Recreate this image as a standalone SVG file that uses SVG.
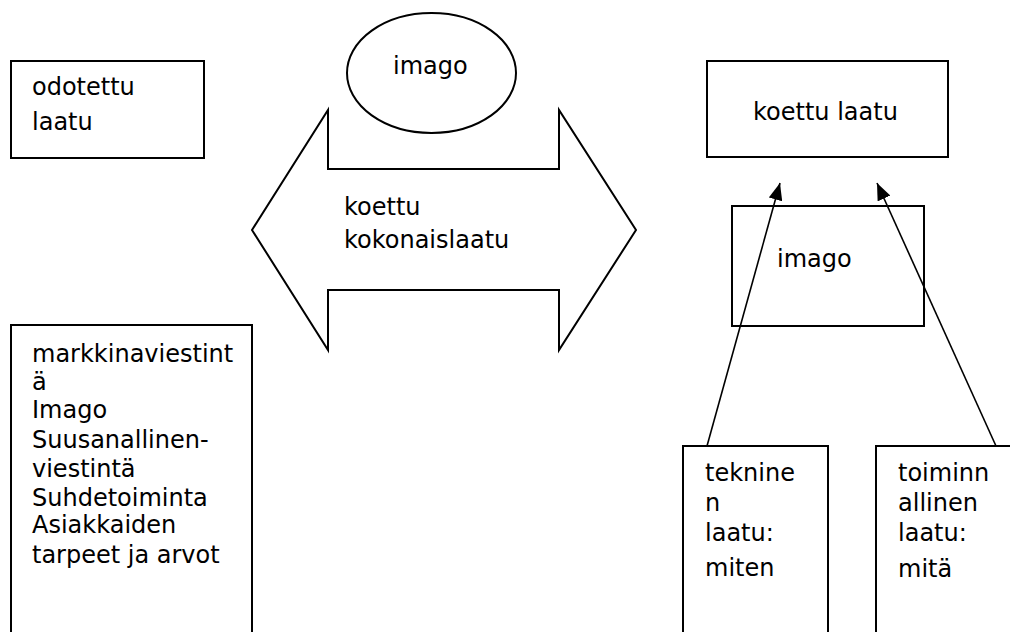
<svg xmlns="http://www.w3.org/2000/svg" width="1010" height="632" viewBox="0 0 1010 632">
<style>
.s{fill:#fff;stroke:#000;stroke-width:2}
.t{font-family:"DejaVu Sans","Liberation Sans",sans-serif;font-size:24px;fill:#000}
.c{stroke:#000;stroke-width:1.6;fill:none}
</style>
<defs>
<marker id="ah" markerWidth="17" markerHeight="14" viewBox="0 0 17 14" refX="17" refY="7" orient="auto" markerUnits="userSpaceOnUse">
<path d="M0,0 L17,7 L0,14 Z" fill="#000"/>
</marker>
</defs>
<rect width="1010" height="632" fill="#fff"/>
<g id="odotettu">
<rect class="s" x="11" y="61" width="193" height="97"/>
<text class="t" x="32" y="95">odotettu</text>
<text class="t" x="32" y="130">laatu</text>
</g>
<g id="kokonaislaatu">
<path class="s" d="M252,230 L328,110 L328,169 L559,169 L559,110 L636,230 L559,350 L559,290 L328,290 L328,350 Z"/>
<text class="t" x="344" y="215">koettu</text>
<text class="t" x="344" y="248">kokonaislaatu</text>
</g>
<g id="imago-ellipse">
<ellipse class="s" cx="431.5" cy="73" rx="84.5" ry="60"/>
<text class="t" x="393" y="74">imago</text>
</g>
<g id="markkinointi">
<rect class="s" x="11" y="325" width="241" height="320"/>
<text class="t" x="32" y="362">markkinaviestint</text>
<text class="t" x="32" y="390">ä</text>
<text class="t" x="32" y="418">Imago</text>
<text class="t" x="32" y="448">Suusanallinen-</text>
<text class="t" x="32" y="477">viestintä</text>
<text class="t" x="32" y="506">Suhdetoiminta</text>
<text class="t" x="32" y="533">Asiakkaiden</text>
<text class="t" x="32" y="563">tarpeet ja arvot</text>
</g>
<g id="koettu-laatu">
<rect class="s" x="707" y="61" width="241" height="96"/>
<text class="t" x="753" y="120">koettu laatu</text>
</g>
<g id="imago-rect">
<rect class="s" x="732" y="206" width="192" height="120"/>
<text class="t" x="777" y="267">imago</text>
</g>
<g id="tekninen">
<rect class="s" x="683" y="446" width="145" height="200"/>
<text class="t" x="705" y="481">teknine</text>
<text class="t" x="705" y="511">n</text>
<text class="t" x="705" y="541">laatu:</text>
<text class="t" x="705" y="576">miten</text>
</g>
<g id="toiminnallinen">
<rect class="s" x="876" y="446" width="150" height="200"/>
<text class="t" x="898" y="481">toiminn</text>
<text class="t" x="898" y="511">allinen</text>
<text class="t" x="898" y="541">laatu:</text>
<text class="t" x="898" y="577">mitä</text>
</g>
<g id="connectors">
<line class="c" x1="707" y1="446" x2="780" y2="183" marker-end="url(#ah)"/>
<line class="c" x1="996" y1="446" x2="877" y2="183" marker-end="url(#ah)"/>
</g>
</svg>
